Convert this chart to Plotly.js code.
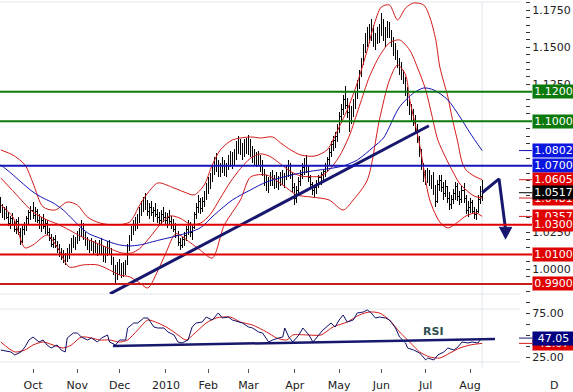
<!DOCTYPE html>
<html><head><meta charset="utf-8">
<script src="https://cdn.plot.ly/plotly-3.0.1.min.js"></script>
<style>html,body{margin:0;padding:0;background:#fff}#chart{width:573px;height:392px}
#chart .ohlc path{shape-rendering:crispEdges}</style>
</head><body><div id="chart"></div>
<script>
// Bars are indexed by trading day; 0 = 1 Oct 2009
const firstBar = -16;
const opens = [
1.0470,1.0395,1.0360,1.0405,1.0350,1.0310,1.0340,1.0300,1.0270,1.0320,
1.0250,1.0190,1.0270,1.0300,1.0340,1.0380,1.0400,1.0360,1.0390,1.0330,
1.0300,1.0330,1.0290,1.0310,1.0250,1.0210,1.0170,1.0200,1.0160,1.0130,
1.0100,1.0080,1.0060,1.0090,1.0120,1.0150,1.0190,1.0170,1.0200,1.0240,
1.0260,1.0300,1.0230,1.0180,1.0150,1.0180,1.0140,1.0160,1.0130,1.0150,
1.0170,1.0120,1.0080,1.0130,1.0170,1.0110,1.0060,0.9990,0.9950,1.0020,
0.9990,1.0010,0.9980,1.0040,1.0150,1.0210,1.0270,1.0310,1.0290,1.0340,
1.0390,1.0430,1.0470,1.0430,1.0390,1.0420,1.0380,1.0400,1.0370,1.0350,
1.0330,1.0370,1.0350,1.0330,1.0350,1.0320,1.0300,1.0270,1.0230,1.0180,
1.0160,1.0200,1.0230,1.0270,1.0300,1.0250,1.0280,1.0370,1.0420,1.0460,
1.0410,1.0460,1.0500,1.0550,1.0590,1.0620,1.0670,1.0720,1.0690,1.0650,
1.0700,1.0730,1.0670,1.0700,1.0740,1.0770,1.0720,1.0780,1.0830,1.0860,
1.0800,1.0820,1.0850,1.0810,1.0860,1.0790,1.0760,1.0740,1.0770,1.0730,
1.0700,1.0650,1.0590,1.0560,1.0600,1.0630,1.0590,1.0610,1.0580,1.0600,
1.0630,1.0600,1.0630,1.0670,1.0690,1.0640,1.0550,1.0480,1.0530,1.0590,
1.0640,1.0690,1.0700,1.0660,1.0620,1.0570,1.0530,1.0550,1.0580,1.0620,
1.0640,1.0660,1.0700,1.0740,1.0790,1.0840,1.0870,1.0900,1.0950,1.1030,
1.1080,1.1150,1.1110,1.1060,1.1000,1.1070,1.1120,1.1170,1.1250,1.1320,
1.1400,1.1490,1.1560,1.1600,1.1570,1.1640,1.1550,1.1580,1.1610,1.1640,
1.1650,1.1580,1.1610,1.1660,1.1600,1.1530,1.1480,1.1450,1.1390,1.1350,
1.1310,1.1290,1.1200,1.1140,1.1080,1.1030,1.1010,1.0950,1.0880,1.0790,
1.0700,1.0620,1.0600,1.0650,1.0590,1.0620,1.0530,1.0460,1.0570,1.0600,
1.0550,1.0510,1.0560,1.0480,1.0440,1.0470,1.0510,1.0560,1.0490,1.0470,
1.0530,1.0480,1.0400,1.0420,1.0450,1.0390,1.0370,1.0390,1.0470,1.0490];
const highs = [
1.0488,1.0440,1.0420,1.0430,1.0390,1.0360,1.0380,1.0330,1.0340,1.0350,
1.0280,1.0290,1.0320,1.0360,1.0400,1.0430,1.0457,1.0420,1.0410,1.0370,
1.0350,1.0370,1.0340,1.0330,1.0280,1.0240,1.0220,1.0230,1.0190,1.0170,
1.0140,1.0130,1.0110,1.0140,1.0170,1.0210,1.0230,1.0220,1.0260,1.0280,
1.0333,1.0310,1.0250,1.0220,1.0200,1.0210,1.0190,1.0200,1.0180,1.0200,
1.0210,1.0160,1.0150,1.0190,1.0200,1.0140,1.0080,1.0030,1.0050,1.0070,
1.0040,1.0050,1.0060,1.0170,1.0230,1.0290,1.0330,1.0350,1.0370,1.0420,
1.0460,1.0490,1.0515,1.0470,1.0450,1.0460,1.0420,1.0450,1.0410,1.0390,
1.0400,1.0420,1.0390,1.0380,1.0400,1.0360,1.0340,1.0310,1.0260,1.0210,
1.0220,1.0250,1.0290,1.0330,1.0320,1.0300,1.0390,1.0450,1.0500,1.0480,
1.0490,1.0530,1.0580,1.0620,1.0650,1.0700,1.0760,1.0786,1.0740,1.0720,
1.0760,1.0740,1.0720,1.0770,1.0800,1.0790,1.0810,1.0870,1.0900,1.0880,
1.0850,1.0880,1.0890,1.0907,1.0880,1.0830,1.0810,1.0790,1.0800,1.0770,
1.0740,1.0680,1.0640,1.0620,1.0660,1.0670,1.0640,1.0660,1.0630,1.0660,
1.0670,1.0650,1.0700,1.0738,1.0720,1.0660,1.0580,1.0560,1.0620,1.0670,
1.0720,1.0750,1.0772,1.0700,1.0640,1.0590,1.0570,1.0600,1.0640,1.0660,
1.0680,1.0720,1.0760,1.0820,1.0870,1.0900,1.0930,1.0980,1.1060,1.1120,
1.1180,1.1239,1.1160,1.1110,1.1100,1.1150,1.1200,1.1280,1.1350,1.1430,
1.1520,1.1597,1.1640,1.1660,1.1690,1.1650,1.1600,1.1640,1.1660,1.1730,
1.1690,1.1640,1.1680,1.1670,1.1620,1.1570,1.1530,1.1480,1.1430,1.1400,
1.1350,1.1300,1.1230,1.1160,1.1120,1.1080,1.1040,1.0980,1.0900,1.0810,
1.0720,1.0670,1.0684,1.0670,1.0640,1.0657,1.0570,1.0600,1.0640,1.0637,
1.0590,1.0600,1.0560,1.0520,1.0500,1.0540,1.0590,1.0580,1.0530,1.0560,
1.0583,1.0500,1.0460,1.0480,1.0468,1.0420,1.0410,1.0500,1.0560,1.0603];
const lows = [
1.0380,1.0345,1.0330,1.0340,1.0290,1.0275,1.0290,1.0250,1.0240,1.0230,
1.0165,1.0180,1.0230,1.0260,1.0300,1.0330,1.0340,1.0320,1.0310,1.0270,
1.0250,1.0270,1.0240,1.0230,1.0190,1.0150,1.0140,1.0140,1.0110,1.0080,
1.0060,1.0040,1.0030,1.0050,1.0070,1.0110,1.0140,1.0130,1.0170,1.0190,
1.0220,1.0200,1.0160,1.0130,1.0110,1.0120,1.0100,1.0110,1.0090,1.0100,
1.0100,1.0050,1.0040,1.0090,1.0100,1.0030,0.9960,0.9907,0.9930,0.9960,
0.9940,0.9950,0.9960,1.0030,1.0120,1.0190,1.0230,1.0260,1.0270,1.0310,
1.0360,1.0390,1.0400,1.0360,1.0340,1.0360,1.0320,1.0350,1.0310,1.0290,
1.0300,1.0320,1.0300,1.0280,1.0300,1.0270,1.0250,1.0210,1.0160,1.0130,
1.0140,1.0160,1.0190,1.0230,1.0220,1.0200,1.0270,1.0340,1.0380,1.0370,
1.0390,1.0420,1.0470,1.0510,1.0540,1.0590,1.0640,1.0660,1.0620,1.0620,
1.0650,1.0630,1.0620,1.0670,1.0690,1.0680,1.0700,1.0740,1.0780,1.0770,
1.0740,1.0760,1.0780,1.0770,1.0760,1.0720,1.0700,1.0690,1.0700,1.0660,
1.0630,1.0560,1.0530,1.0515,1.0560,1.0560,1.0540,1.0550,1.0535,1.0560,
1.0570,1.0550,1.0600,1.0620,1.0610,1.0520,1.0434,1.0450,1.0500,1.0560,
1.0610,1.0640,1.0650,1.0590,1.0540,1.0500,1.0490,1.0510,1.0550,1.0570,
1.0590,1.0620,1.0660,1.0700,1.0760,1.0800,1.0820,1.0860,1.0920,1.0990,
1.1040,1.1080,1.1020,1.0925,1.0980,1.1030,1.1080,1.1150,1.1220,1.1300,
1.1380,1.1460,1.1500,1.1530,1.1540,1.1500,1.1480,1.1520,1.1530,1.1580,
1.1540,1.1500,1.1560,1.1560,1.1500,1.1440,1.1414,1.1360,1.1310,1.1280,
1.1250,1.1170,1.1100,1.1040,1.1000,1.0970,1.0920,1.0850,1.0760,1.0670,
1.0590,1.0570,1.0580,1.0560,1.0540,1.0500,1.0420,1.0450,1.0530,1.0520,
1.0470,1.0490,1.0450,1.0400,1.0410,1.0440,1.0470,1.0460,1.0434,1.0450,
1.0450,1.0370,1.0353,1.0380,1.0370,1.0340,1.0333,1.0380,1.0440,1.0460];
const closes = [
1.0395,1.0360,1.0405,1.0350,1.0310,1.0340,1.0300,1.0270,1.0320,1.0250,
1.0190,1.0270,1.0300,1.0340,1.0380,1.0400,1.0360,1.0390,1.0330,1.0300,
1.0330,1.0290,1.0310,1.0250,1.0210,1.0170,1.0200,1.0160,1.0130,1.0100,
1.0080,1.0060,1.0090,1.0120,1.0150,1.0190,1.0170,1.0200,1.0240,1.0260,
1.0300,1.0230,1.0180,1.0150,1.0180,1.0140,1.0160,1.0130,1.0150,1.0170,
1.0120,1.0080,1.0130,1.0170,1.0110,1.0060,0.9990,0.9950,1.0020,0.9990,
1.0010,0.9980,1.0040,1.0150,1.0210,1.0270,1.0310,1.0290,1.0340,1.0390,
1.0430,1.0470,1.0430,1.0390,1.0420,1.0380,1.0400,1.0370,1.0350,1.0330,
1.0370,1.0350,1.0330,1.0350,1.0320,1.0300,1.0270,1.0230,1.0180,1.0160,
1.0200,1.0230,1.0270,1.0300,1.0250,1.0280,1.0370,1.0420,1.0460,1.0410,
1.0460,1.0500,1.0550,1.0590,1.0620,1.0670,1.0720,1.0690,1.0650,1.0700,
1.0730,1.0670,1.0700,1.0740,1.0770,1.0720,1.0780,1.0830,1.0860,1.0800,
1.0820,1.0850,1.0810,1.0860,1.0790,1.0760,1.0740,1.0770,1.0730,1.0700,
1.0650,1.0590,1.0560,1.0600,1.0630,1.0590,1.0610,1.0580,1.0600,1.0630,
1.0600,1.0630,1.0670,1.0690,1.0640,1.0550,1.0480,1.0530,1.0590,1.0640,
1.0690,1.0700,1.0660,1.0620,1.0570,1.0530,1.0550,1.0580,1.0620,1.0640,
1.0660,1.0700,1.0740,1.0790,1.0840,1.0870,1.0900,1.0950,1.1030,1.1080,
1.1150,1.1110,1.1060,1.1000,1.1070,1.1120,1.1170,1.1250,1.1320,1.1400,
1.1490,1.1560,1.1600,1.1570,1.1640,1.1550,1.1580,1.1610,1.1640,1.1650,
1.1580,1.1610,1.1660,1.1600,1.1530,1.1480,1.1450,1.1390,1.1350,1.1310,
1.1290,1.1200,1.1140,1.1080,1.1030,1.1010,1.0950,1.0880,1.0790,1.0700,
1.0620,1.0600,1.0650,1.0590,1.0620,1.0530,1.0460,1.0570,1.0600,1.0550,
1.0510,1.0560,1.0480,1.0440,1.0470,1.0510,1.0560,1.0490,1.0470,1.0530,
1.0480,1.0400,1.0420,1.0450,1.0390,1.0370,1.0390,1.0470,1.0490,1.0517];

const monthTickIdx  = [0,22,43,66,87,107,130,152,173,195,217];
const monthTickText = ['Oct','Nov','Dec','2010','Feb','Mar','Apr','May','Jun','Jul','Aug'];
// price / RSI scale labels left visible (the others sit under the value boxes)
const priceTickVals = [1.0, 1.025, 1.125, 1.15, 1.175];
const rsiTickVals = [25, 75];

// Bollinger bands
const bbUpperIdx = [-16,-10,-4,0,5,11,17,22,27,33,41,48,53,57,62,70,75,80,85,89,93,99,108,113,119,123,128,133,140,146,149,152,156,161,166,169,173,177,181,185,189,194,197,200,202,206,208,211,213,215,219,223];
const bbUpperVal = [1.0806,1.0772,1.0705,1.0583,1.0421,1.0400,1.0454,1.0434,1.0353,1.0313,1.0299,1.0319,1.0434,1.0515,1.0583,1.0549,1.0522,1.0502,1.0569,1.0705,1.0806,1.0874,1.0894,1.0887,1.0894,1.0853,1.0806,1.0772,1.0765,1.0806,1.0874,1.0961,1.1076,1.1259,1.1482,1.1637,1.1773,1.1786,1.1685,1.1766,1.1800,1.1786,1.1705,1.1550,1.1367,1.1164,1.1029,1.0853,1.0725,1.0671,1.0630,1.0605];
const bbMidIdx = [-16,-9,0,7,12,18,24,31,38,44,49,53,58,63,68,73,78,83,88,93,98,103,108,113,118,123,128,133,138,143,147,152,157,162,167,172,177,182,187,191,195,198,201,205,208,212,215,219,223];
const bbMidVal = [1.0617,1.0515,1.0387,1.0333,1.0306,1.0265,1.0220,1.0180,1.0140,1.0110,1.0110,1.0140,1.0215,1.0300,1.0360,1.0345,1.0305,1.0310,1.0370,1.0480,1.0590,1.0680,1.0750,1.0780,1.0760,1.0710,1.0660,1.0630,1.0625,1.0630,1.0670,1.0760,1.0900,1.1100,1.1300,1.1440,1.1530,1.1550,1.1482,1.1360,1.1212,1.1043,1.0874,1.0752,1.0671,1.0576,1.0536,1.0495,1.0481];
const bbLowIdx = [-16,-10,-4,0,7,12,18,25,32,38,43,48,53,57,62,66,71,78,83,89,95,103,108,116,124,131,138,147,154,159,166,172,177,181,185,187,192,197,202,206,211,215,220,223];
const bbLowVal = [1.0434,1.0353,1.0144,1.0164,1.0231,1.0150,1.0015,1.0029,1.0029,0.9995,0.9961,0.9948,0.9907,0.9873,0.9990,1.0110,1.0240,1.0180,1.0130,1.0075,1.0299,1.0468,1.0623,1.0637,1.0569,1.0502,1.0488,1.0468,1.0400,1.0468,1.0603,1.1009,1.1279,1.1381,1.1313,1.1151,1.0840,1.0468,1.0319,1.0279,1.0319,1.0360,1.0380,1.0357];
// Moving average (blue)
const maIdx = [-16,-11,-6,0,5,10,15,20,24,28,33,38,43,48,53,63,73,83,90,99,108,116,133,149,154,161,169,174,182,189,194,199,206,212,217,223];
const maVal = [1.0705,1.0650,1.0590,1.0522,1.0481,1.0448,1.0400,1.0333,1.0279,1.0238,1.0211,1.0184,1.0164,1.0157,1.0164,1.0198,1.0231,1.0279,1.0367,1.0468,1.0536,1.0590,1.0651,1.0684,1.0698,1.0738,1.0826,1.0887,1.1097,1.1191,1.1225,1.1212,1.1144,1.1029,1.0921,1.0802];

// RSI and its average
const rsiIdx = [-16,-11,-9,-6,-4,-2,0,3,5,7,9,12,14,16,17,20,22,24,27,29,32,34,37,38,41,43,46,47,50,52,55,57,60,62,65,67,70,72,74,77,79,81,84,86,89,92,94,97,99,102,104,107,109,112,114,117,119,122,124,125,127,129,132,134,137,139,142,144,148,150,152,154,156,159,161,164,166,168,170,172,175,177,180,182,185,186,189,192,195,196,199,201,204,206,209,211,213,216,218,221,222,223];
const rsiVal = [33.5,31.3,27.8,31.3,36.9,44.9,48.3,42.6,44.9,39.2,35.8,39.2,33.5,31.3,47.2,52.8,52.8,48.3,44.9,47.2,42.6,47.2,50.6,42.6,39.2,44.9,44.9,58.5,64.2,64.2,69.9,69.9,59.7,58.5,58.5,54,50.6,42.6,41.5,44.9,59.7,64.2,65.3,71,67.6,75.6,69.9,71,67.6,65.3,64.2,59.7,58.5,54,52.8,42.6,44.9,47.2,48.3,58.5,48.3,42.6,50.6,58.5,50.6,42.6,50.6,56.3,64.2,59.7,67.6,73.3,65.3,67.6,75.6,76.7,79,75.6,69.9,71,69.9,67.6,58.5,48.3,41.5,35.8,33.5,30.1,22.2,24.4,22.2,27.8,31.3,35.8,33.5,36.9,42.6,41.5,42.6,41.5,44.9,47.05];
const rsiMaIdx = [-16,-9,-4,0,5,10,15,19,24,29,33,38,43,47,52,57,62,67,72,76,81,86,91,98,103,109,116,121,126,129,136,143,149,156,162,167,172,177,182,187,192,197,202,207,212,217,223];
const rsiMaVal = [42.6,31.3,33.5,39.2,42.6,39.2,35.8,39.2,48.3,47.2,44.9,44.9,42.6,44.9,56.3,67.6,64.2,58.5,50.6,44.9,54,64.2,69.9,71,65.3,61.9,54,47.2,44.9,50.6,50.6,50.6,59.7,65.3,73.3,76.7,75.6,67.6,54,42.6,31.3,25.6,24.4,30.1,35.8,39.2,41.07];

// Drawn analysis lines
const trendIdx = [38.2, 196.6];
const trendPrice = [0.9833, 1.0970];
const rsiTrendIdx = [39.7, 229.4];
const rsiTrendVal = [38.1, 46.0];
const forecastIdx = [223, 231.4, 234.5];
const forecastPrice = [1.0517, 1.0610, 1.0283];
const headIdx = [231.4, 237.7, 234.5];
const headPrice = [1.0283, 1.0283, 1.0202];

// Horizontal levels and their labels
const levelPrices = [1.12, 1.10, 1.07, 1.03, 1.01, 0.99];
const levelLabels = ['1.1200','1.1000','1.0700','1.0300','1.0100','0.9900'];
const maLast = 1.0802, bbUpperLast = 1.0605, closeLast = 1.0517, bbMidLast = 1.0481, bbLowLast = 1.0357;
const rsiLast = 47.05, rsiMaLast = 41.07;

// ---------- styling ----------
const barIdx = opens.map((_, i) => firstBar + i);
const lastIdx = barIdx[barIdx.length - 1];
const RED = '#d21a1a', BLUE = '#1414b4', NAVY = '#17176e', GREEN = '#0b7a0b';
const levelColors = [GREEN, GREEN, '#1616b8', '#e00000', '#e00000', '#c81c1c'];
const boxColors = [GREEN, GREEN, '#0a16e0', '#e00000', '#e00000', '#e00000'];
const FONT = 'DejaVu Sans';

const traces = [
  {x: bbUpperIdx, y: bbUpperVal, type: 'scatter', mode: 'lines', line: {color: RED, width: 1, shape: 'spline', smoothing: 0.8}},
  {x: bbMidIdx, y: bbMidVal, type: 'scatter', mode: 'lines', line: {color: RED, width: 1, shape: 'spline', smoothing: 0.8}},
  {x: bbLowIdx, y: bbLowVal, type: 'scatter', mode: 'lines', line: {color: RED, width: 1, shape: 'spline', smoothing: 0.8}},
  {x: maIdx, y: maVal, type: 'scatter', mode: 'lines', line: {color: BLUE, width: 1, shape: 'spline', smoothing: 0.8}},
  {x: barIdx, open: opens, high: highs, low: lows, close: closes, type: 'ohlc', tickwidth: 0.35,
   increasing: {line: {color: '#000', width: 1}}, decreasing: {line: {color: '#000', width: 1}}, hoverinfo: 'skip'},
  {x: trendIdx, y: trendPrice, type: 'scatter', mode: 'lines', line: {color: NAVY, width: 3}},
  {x: forecastIdx, y: forecastPrice, type: 'scatter', mode: 'lines', line: {color: NAVY, width: 3}},
  {x: headIdx, y: headPrice, type: 'scatter', mode: 'lines', fill: 'toself', fillcolor: NAVY, line: {color: NAVY, width: 1}},
  {x: rsiMaIdx, y: rsiMaVal, yaxis: 'y2', type: 'scatter', mode: 'lines', line: {color: RED, width: 1, shape: 'spline', smoothing: 0.7}},
  {x: rsiIdx, y: rsiVal, yaxis: 'y2', type: 'scatter', mode: 'lines', line: {color: '#10106a', width: 1}},
  {x: rsiTrendIdx, y: rsiTrendVal, yaxis: 'y2', type: 'scatter', mode: 'lines', line: {color: NAVY, width: 2.5}}
];

const mainBottom = (368 - 294) / 366;
const xBox = 532 / 525, xTick0 = 519 / 525;
const GRID = '#e1e6ec';
const shapes = [
  {type: 'line', xref: 'paper', yref: 'paper', x0: 0, x1: 0.99, y0: 1, y1: 1, line: {color: GRID, width: 1}, layer: 'below'},
  {type: 'line', xref: 'paper', yref: 'paper', x0: 0, x1: 0.99, y0: mainBottom, y1: mainBottom, line: {color: GRID, width: 1}, layer: 'below'},
  {type: 'line', xref: 'paper', yref: 'y2', x0: 0, x1: 0.99, y0: 80, y1: 80, line: {color: GRID, width: 1}, layer: 'below'},
  {type: 'line', xref: 'paper', yref: 'y2', x0: 0, x1: 0.99, y0: 20, y1: 20, line: {color: GRID, width: 1}, layer: 'below'},
  {type: 'line', xref: 'x', yref: 'paper', x0: lastIdx, x1: lastIdx, y0: 0, y1: 1, line: {color: GRID, width: 1}, layer: 'below'}
];
levelPrices.forEach((p, i) => shapes.push({type: 'line', xref: 'paper', yref: 'y', x0: 0, x1: xBox, y0: p, y1: p,
  line: {color: levelColors[i], width: 2}, layer: 'above'}));
[[maLast, BLUE], [bbUpperLast, RED], [closeLast, '#000'], [bbMidLast, RED], [bbLowLast, RED]].forEach(([v, c]) =>
  shapes.push({type: 'line', xref: 'paper', yref: 'y', x0: xTick0, x1: xBox, y0: v, y1: v, line: {color: c, width: 1}, layer: 'above'}));
[[rsiLast, NAVY], [rsiMaLast, RED]].forEach(([v, c]) =>
  shapes.push({type: 'line', xref: 'paper', yref: 'y2', x0: xTick0, x1: xBox, y0: v, y1: v, line: {color: c, width: 1}, layer: 'above'}));

function box(val, text, bg, yref) {
  return {xref: 'paper', yref: yref || 'y', x: xBox, y: val, xanchor: 'left', yanchor: 'middle', text: text,
    showarrow: false, bgcolor: bg, width: 39, height: 11, borderpad: 1, align: 'center',
    font: {family: FONT, size: 11, color: '#fff'}};
}
const annotations = [
  box(levelPrices[0], levelLabels[0], boxColors[0]),
  box(levelPrices[1], levelLabels[1], boxColors[1]),
  box(maLast, maLast.toFixed(4), '#0a16e0'),
  box(levelPrices[2], levelLabels[2], boxColors[2]),
  box(bbUpperLast, bbUpperLast.toFixed(4), '#e00000'),
  box(bbMidLast, bbMidLast.toFixed(4), '#e00000'),
  box(closeLast, closeLast.toFixed(4), '#000'),
  box(bbLowLast, bbLowLast.toFixed(4), '#e00000'),
  box(levelPrices[3], levelLabels[3], boxColors[3]),
  box(levelPrices[4], levelLabels[4], boxColors[4]),
  box(levelPrices[5], levelLabels[5], boxColors[5]),
  box(rsiMaLast, rsiMaLast.toFixed(2), '#e00000', 'y2'),
  box(rsiLast, rsiLast.toFixed(2), '#000080', 'y2'),
  {xref: 'x', yref: 'y2', x: 199, y: 54, text: '<b>RSI</b>', showarrow: false, xanchor: 'center', yanchor: 'middle',
   font: {family: FONT, size: 11, color: '#2f4f4f'}},
  {xref: 'paper', yref: 'paper', x: 554 / 525, y: -(385 - 368) / 366, text: 'D', showarrow: false, xanchor: 'center', yanchor: 'middle',
   font: {family: FONT, size: 11, color: '#222'}}
];

const layout = {
  width: 573, height: 392,
  margin: {l: 0, r: 48, t: 2, b: 24, pad: 0},
  paper_bgcolor: '#fff', plot_bgcolor: '#fff',
  showlegend: false,
  font: {family: FONT, size: 11, color: '#222'},
  xaxis: {range: [-16.385, 244.29], anchor: 'y2', tickmode: 'array', tickvals: monthTickIdx, ticktext: monthTickText,
    ticks: 'outside', ticklen: 4, tickcolor: '#555', showgrid: false, zeroline: false, showline: false,
    rangeslider: {visible: false}, ticklabelstandoff: 3, tickfont: {family: FONT, size: 11, color: '#222'}},
  yaxis: {domain: [mainBottom, 1], range: [0.98322, 1.18065], side: 'right', anchor: 'x', tickmode: 'array',
    tickvals: priceTickVals, tickformat: '.4f', ticks: 'outside', ticklen: 4, tickcolor: '#333',
    showgrid: false, zeroline: false, showline: false,
    minor: {tickmode: 'linear', dtick: 0.005, tick0: 1, ticks: 'outside', ticklen: 4, tickcolor: '#333', showgrid: false},
    tickfont: {family: FONT, size: 11, color: '#222'}},
  yaxis2: {domain: [0, (368 - 296) / 366], range: [13.07, 94.89], side: 'right', anchor: 'x', tickmode: 'array',
    tickvals: rsiTickVals, tickformat: '.2f', ticks: 'outside', ticklen: 4, tickcolor: '#333',
    showgrid: false, zeroline: false, showline: false,
    minor: {tickmode: 'linear', dtick: 12.5, tick0: 0, ticks: 'outside', ticklen: 4, tickcolor: '#333', showgrid: false},
    tickfont: {family: FONT, size: 11, color: '#222'}},
  shapes: shapes,
  annotations: annotations
};

Plotly.newPlot('chart', traces, layout, {staticPlot: true, displayModeBar: false});
</script>
</body></html>
